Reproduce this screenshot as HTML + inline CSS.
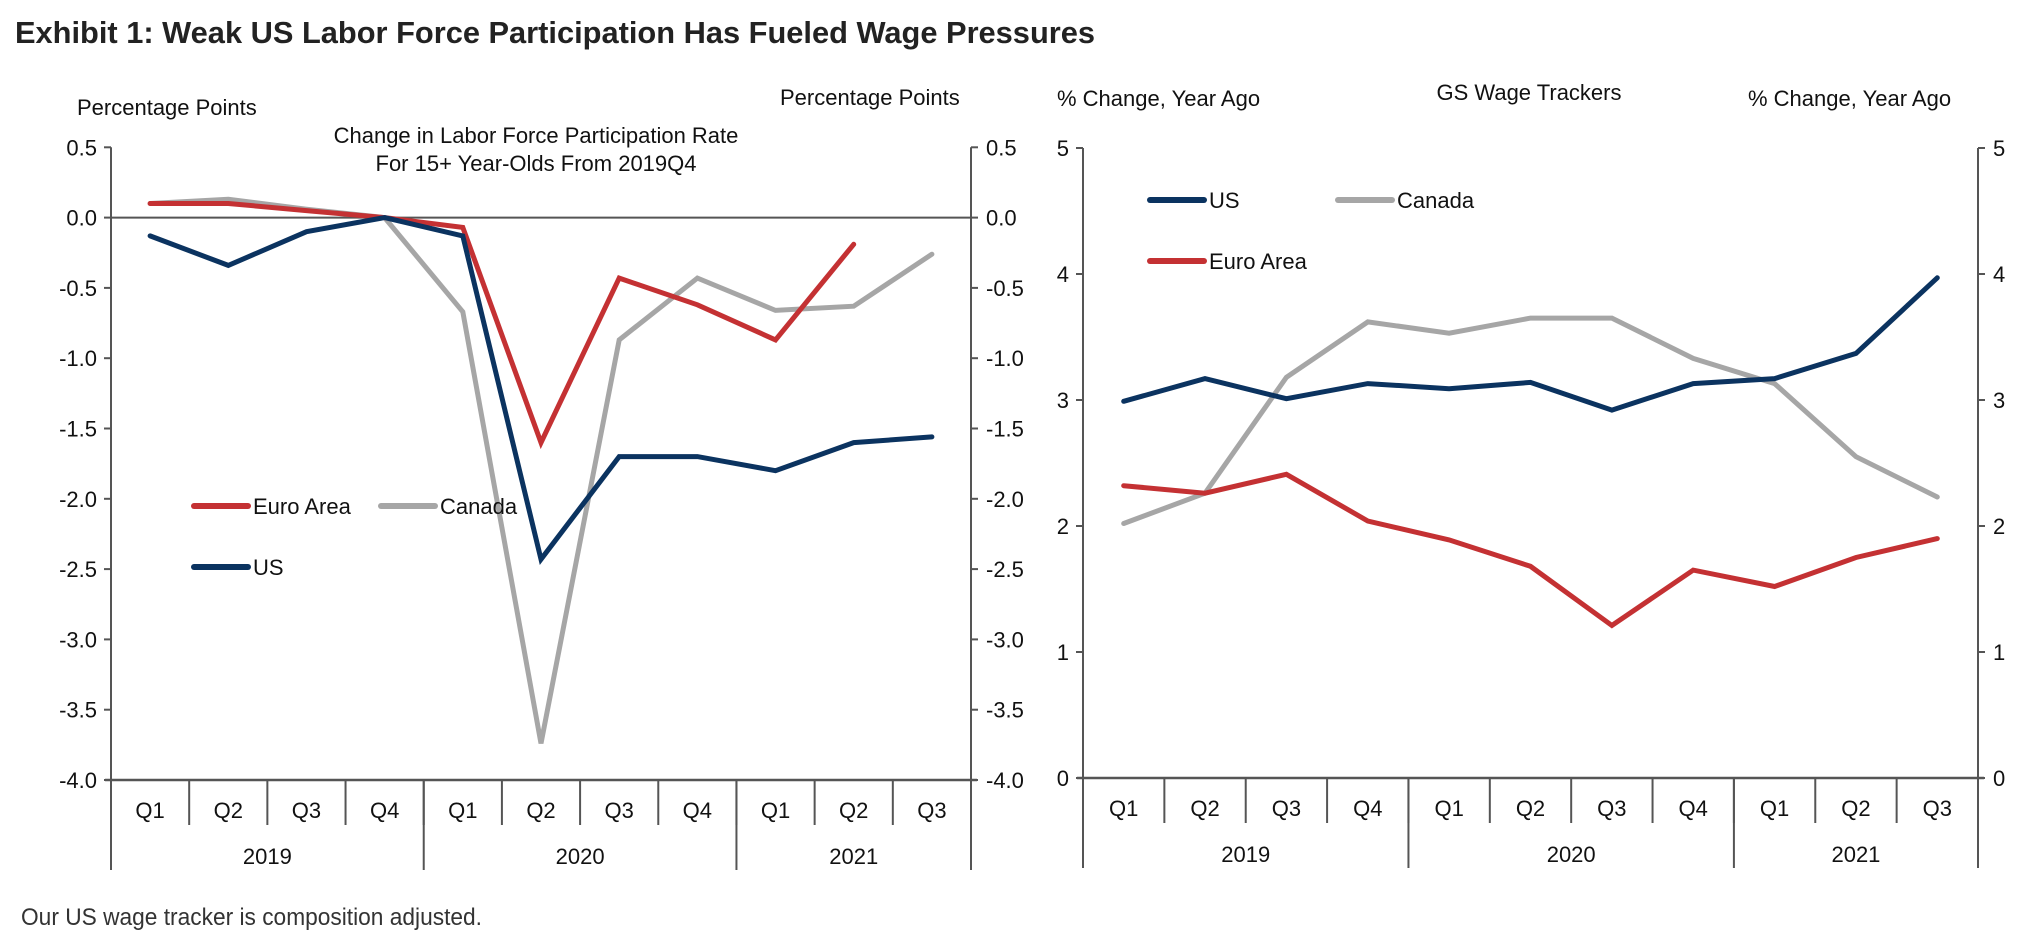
<!DOCTYPE html>
<html><head><meta charset="utf-8"><style>
html,body{margin:0;padding:0;background:#fff;}
svg{display:block;font-family:"Liberation Sans",Arial,sans-serif;}
</style></head><body>
<svg id="c" width="2030" height="940" viewBox="0 0 2030 940" xmlns="http://www.w3.org/2000/svg">
<text x="15" y="43" font-size="31" font-weight="bold" fill="#222" textLength="1080" lengthAdjust="spacingAndGlyphs">Exhibit 1: Weak US Labor Force Participation Has Fueled Wage Pressures</text>
<text x="21" y="925" font-size="24" fill="#333" textLength="461" lengthAdjust="spacingAndGlyphs">Our US wage tracker is composition adjusted.</text>
<g id="left"></g><g id="right"></g>
</svg>
<script>
const quarters = ["Q1","Q2","Q3","Q4","Q1","Q2","Q3","Q4","Q1","Q2","Q3"];
const years = ["2019","2020","2021"];
const yearSpans = [4,4,3];
const lfpUS = [-0.13,-0.34,-0.10,0.0,-0.13,-2.43,-1.70,-1.70,-1.80,-1.60,-1.56];
const lfpEuro = [0.10,0.10,0.05,0.0,-0.07,-1.60,-0.43,-0.62,-0.87,-0.19];
const lfpCanada = [0.10,0.13,0.06,0.0,-0.67,-3.74,-0.87,-0.43,-0.66,-0.63,-0.26];
const lfpTicks = [0.5,0.0,-0.5,-1.0,-1.5,-2.0,-2.5,-3.0,-3.5,-4.0];
const wageUS = [2.99,3.17,3.01,3.13,3.09,3.14,2.92,3.13,3.17,3.37,3.97];
const wageEuro = [2.32,2.26,2.41,2.04,1.89,1.68,1.21,1.65,1.52,1.75,1.90];
const wageCanada = [2.02,2.26,3.18,3.62,3.53,3.65,3.65,3.33,3.13,2.55,2.23];
const wageTicks = [5,4,3,2,1,0];

const NS="http://www.w3.org/2000/svg";
const C={us:"#0b3360",eu:"#c43133",ca:"#a6a6a6",ax:"#555"};
function mk(parent,tag,attrs,text){const e=document.createElementNS(NS,tag);for(const k in attrs)e.setAttribute(k,attrs[k]);if(text!==undefined)e.textContent=text;parent.appendChild(e);return e;}

function chart(g,o){
  const x0=o.x0,x1=o.x1,yT=o.yTop,yB=o.yBot;
  const n=quarters.length,w=(x1-x0)/n;
  const X=i=>x0+w*(i+0.5);
  const Y=v=>yT+(o.max-v)/(o.max-o.min)*(yB-yT);
  // axes
  let e=mk(g,"line",{x1:x0,y1:yT,x2:x0,y2:yB+90,stroke:C.ax,"stroke-width":2});
  
  
  e=mk(g,"line",{x1:x1,y1:yT,x2:x1,y2:yB+90,stroke:C.ax,"stroke-width":2});
  
  
  e=mk(g,"line",{x1:x0-6,y1:yB,x2:x1+6,y2:yB,stroke:C.ax,"stroke-width":2.5});
  
  
  if(o.zero){e=mk(g,"line",{x1:x0,y1:Y(0),x2:x1,y2:Y(0),stroke:C.ax,"stroke-width":2});
    
    }
  o.ticks.forEach(t=>{
    const y=Y(t);
    mk(g,"line",{x1:x0-7,y1:y,x2:x0,y2:y,stroke:C.ax,"stroke-width":2});
    mk(g,"line",{x1:x1,y1:y,x2:x1+7,y2:y,stroke:C.ax,"stroke-width":2});
    const lab=o.fmt(t);
    e=mk(g,"text",{x:x0-14,y:y+8,"font-size":22,"text-anchor":"end",fill:"#111"},lab);
    
    
    e=mk(g,"text",{x:x1+15,y:y+8,"font-size":22,fill:"#111"},lab);
    
    
  });
  quarters.forEach((q,i)=>{
    if(i>0)mk(g,"line",{x1:x0+w*i,y1:yB,x2:x0+w*i,y2:yB+45,stroke:C.ax,"stroke-width":2});
    e=mk(g,"text",{x:X(i),y:yB+38,"font-size":22,"text-anchor":"middle",fill:"#111"},q);
    
    
  });
  let s=0;
  years.forEach((yr,j)=>{
    if(s>0)mk(g,"line",{x1:x0+w*s,y1:yB,x2:x0+w*s,y2:yB+90,stroke:C.ax,"stroke-width":2});
    e=mk(g,"text",{x:x0+w*(s+yearSpans[j]/2),y:yB+84,"font-size":22,"text-anchor":"middle",fill:"#111"},yr);
    
    
    s+=yearSpans[j];
  });
  o.series.forEach(sr=>{
    const pts=sr.vals.map((v,i)=>X(i).toFixed(1)+","+Y(v).toFixed(1)).join(" ");
    e=mk(g,"polyline",{points:pts,fill:"none",stroke:sr.color,"stroke-width":5,"stroke-linejoin":"miter","stroke-linecap":"round"});
    
    
  });
  o.legend.forEach(l=>{
    e=mk(g,"line",{x1:l.x,y1:l.y,x2:l.x+54,y2:l.y,stroke:l.color,"stroke-width":6,"stroke-linecap":"round"});
    
    
    e=mk(g,"text",{x:l.x+59,y:l.y+8,"font-size":22,fill:"#111"},l.label);
    
    
  });
  o.texts.forEach(t=>{
    e=mk(g,"text",{x:t.x,y:t.y,"font-size":22,"text-anchor":t.a||"start",fill:"#111"},t.s);
    
    
  });
}
chart(document.getElementById("left"),{x0:111,x1:971,yTop:147.3,yBot:780,max:0.5,min:-4.0,zero:true,
  ticks:lfpTicks,fmt:t=>t.toFixed(1),
  series:[{name:"canada-lfp-line",vals:lfpCanada,color:C.ca},{name:"euro-lfp-line",vals:lfpEuro,color:C.eu},{name:"us-lfp-line",vals:lfpUS,color:C.us}],
  legend:[{x:194,y:506,color:C.eu,label:"Euro Area"},{x:381,y:506,color:C.ca,label:"Canada"},{x:194,y:567,color:C.us,label:"US"}],
  texts:[{x:77,y:115,s:"Percentage Points",n:"left-y-axis-title"},{x:780,y:105,s:"Percentage Points",n:"right-y-axis-title"},
    {x:536,y:143,s:"Change in Labor Force Participation Rate",a:"middle",n:"chart-title"},{x:536,y:171,s:"For 15+ Year-Olds From 2019Q4",a:"middle",n:"chart-subtitle"}]});
chart(document.getElementById("right"),{x0:1083,x1:1978,yTop:148,yBot:778,max:5,min:0,zero:false,
  ticks:wageTicks,fmt:t=>String(t),
  series:[{name:"canada-wage-line",vals:wageCanada,color:C.ca},{name:"euro-wage-line",vals:wageEuro,color:C.eu},{name:"us-wage-line",vals:wageUS,color:C.us}],
  legend:[{x:1150,y:200,color:C.us,label:"US"},{x:1338,y:200,color:C.ca,label:"Canada"},{x:1150,y:261,color:C.eu,label:"Euro Area"}],
  texts:[{x:1057,y:106,s:"% Change, Year Ago",n:"left-y-axis-title"},{x:1529,y:100,s:"GS Wage Trackers",a:"middle",n:"chart-title"},{x:1748,y:106,s:"% Change, Year Ago",n:"right-y-axis-title"}]});
</script>
</body></html>
